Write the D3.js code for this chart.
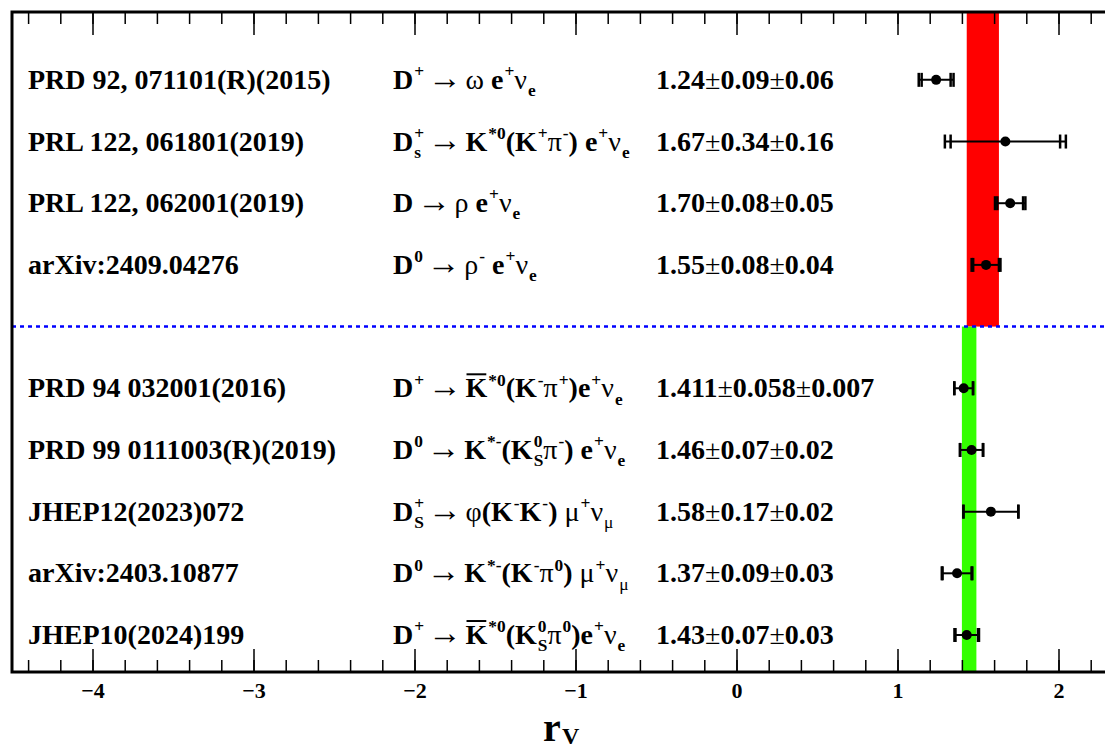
<!DOCTYPE html>
<html>
<head>
<meta charset="utf-8">
<script src="https://cdn.jsdelivr.net/npm/d3@7"></script>
<style>
  body { margin: 0; background: #fff; }
  text { font-family: "Liberation Serif", "Times New Roman", serif; white-space: pre; }
</style>
</head>
<body>
<svg id="chart" width="1105" height="750"></svg>
<script>
// measurements, top to bottom
const refs = ["PRD 92, 071101(R)(2015)", "PRL 122, 061801(2019)", "PRL 122, 062001(2019)", "arXiv:2409.04276",
    "PRD 94 032001(2016)", "PRD 99 0111003(R)(2019)", "JHEP12(2023)072", "arXiv:2403.10877", "JHEP10(2024)199"];
const decays = [
    "D^{+} #rightarrow #omega e^{+}#nu_{e}",
    "D_{s}^{+} #rightarrow K^{*0}(K^{+}#pi^{-}) e^{+}#nu_{e}",
    "D #rightarrow #rho e^{+}#nu_{e}",
    "D^{0} #rightarrow #rho^{-} e^{+}#nu_{e}",
    "D^{+} #rightarrow #bar{K}^{*0}(K^{-}#pi^{+})e^{+}#nu_{e}",
    "D^{0} #rightarrow K^{*-}(K_{S}^{0}#pi^{-}) e^{+}#nu_{e}",
    "D_{S}^{+} #rightarrow #phi(K^{-}K^{-}) #mu^{+}#nu_{#mu}",
    "D^{0} #rightarrow K^{*-}(K^{-}#pi^{0}) #mu^{+}#nu_{#mu}",
    "D^{+} #rightarrow #bar{K}^{*0}(K_{S}^{0}#pi^{0})e^{+}#nu_{e}"];
const rv   = [1.24, 1.67, 1.70, 1.55, 1.411, 1.46, 1.58, 1.37, 1.43];
const stat = [0.09, 0.34, 0.08, 0.08, 0.058, 0.07, 0.17, 0.09, 0.07];
const syst = [0.06, 0.16, 0.05, 0.04, 0.007, 0.02, 0.02, 0.03, 0.03];
const digits = [2, 2, 2, 2, 3, 2, 2, 2, 2];
const slots = [0, 1, 2, 3, 5, 6, 7, 8, 9];   // row position, slot 4 is the divider
const dividerSlot = 4;

// averages drawn as bands: upper group (red), lower group (green)
const bandLow  = [1.43, 1.40];
const bandHigh = [1.63, 1.49];
const bandColor = ["#ff0000", "#33ff00"];

const svg = d3.select("#chart");
const pLeft = 12, pRight = 1139, pTop = 12, pBottom = 672;

const x = d3.scaleLinear().domain([-4.5, 2.5]).range([pLeft, pRight]);
const y = d3.scaleLinear().domain([-1.1, 9.6]).range([pTop, pBottom]);

// bands
svg.append("rect")
    .attr("x", x(bandLow[0])).attr("width", x(bandHigh[0]) - x(bandLow[0]))
    .attr("y", pTop).attr("height", y(dividerSlot) - pTop)
    .attr("fill", bandColor[0]);
svg.append("rect")
    .attr("x", x(bandLow[1])).attr("width", x(bandHigh[1]) - x(bandLow[1]))
    .attr("y", y(dividerSlot)).attr("height", pBottom - y(dividerSlot))
    .attr("fill", bandColor[1]);

svg.append("line")
    .attr("x1", pLeft).attr("x2", pRight)
    .attr("y1", y(dividerSlot)).attr("y2", y(dividerSlot))
    .attr("stroke", "#0000ff").attr("stroke-width", 2.5)
    .attr("stroke-dasharray", "4,4");

// ticks
const major = d3.range(-4, 3, 1);
const minor = d3.range(-4.4, 2.5, 0.2).map(d => Math.round(d * 10) / 10);

function tickAxis(axis, ticks, size, pos, labels) {
    const g = svg.append("g")
        .attr("transform", `translate(0,${pos})`)
        .call(axis.tickValues(ticks).tickSizeInner(size).tickSizeOuter(0)
            .tickPadding(10).tickFormat(labels ? d3.format("") : ""));
    g.select(".domain").remove();
    g.selectAll("line").attr("stroke", "#000").attr("stroke-width", 1.5);
    g.selectAll("text").attr("font-size", 22).attr("font-weight", "bold")
        .attr("font-family", "Liberation Serif, serif").attr("fill", "#000");
}
tickAxis(d3.axisBottom(x), minor, -12, pBottom, false);
tickAxis(d3.axisBottom(x), major, -23, pBottom, true);
tickAxis(d3.axisTop(x), minor, -12, pTop, false);
tickAxis(d3.axisTop(x), major, -23, pTop, false);

// TLatex-like text
const sym = { rightarrow: "\u2192", omega: "\u03c9", rho: "\u03c1", pi: "\u03c0", nu: "\u03bd",
    mu: "\u03bc", phi: "\u03c6", pm: "\u00b1" };

function toRuns(s) {
    const runs = [];
    let j = 0;
    while (j < s.length) {
        let t, greek;
        if (s[j] === "#") {
            let k = j + 1;
            while (k < s.length && /[a-z]/i.test(s[k])) k++;
            t = sym[s.slice(j + 1, k)]; greek = true; j = k;
        } else { t = s[j]; greek = false; j++; }
        const last = runs[runs.length - 1];
        if (last && last.greek === greek) last.t += t; else runs.push({ t, greek });
    }
    return runs;
}

function parse(str) {
    const pieces = [];
    let i = 0, plain = "";
    const flush = () => { if (plain) { pieces.push({ kind: "n", runs: toRuns(plain) }); plain = ""; } };
    const group = () => {
        let depth = 0, start = i;
        for (; i < str.length; i++) {
            if (str[i] === "{") depth++;
            if (str[i] === "}") { depth--; if (depth === 0) break; }
        }
        const inner = str.slice(start + 1, i);
        i++;
        return inner;
    };
    while (i < str.length) {
        const c = str[i];
        if (str.startsWith(" #rightarrow ", i)) {
            flush();
            i += 13;
            pieces.push({ kind: "n", runs: [{ t: " \u2192 ", greek: true, arrow: true }] });
        } else if (c === "^" || c === "_") {
            flush();
            i++;
            const key = c === "^" ? "sup" : "sub";
            const content = toRuns(group());
            const last = pieces[pieces.length - 1];
            if (last && last.kind === "s" && !last[key]) last[key] = content;
            else pieces.push({ kind: "s", [key]: content });
        } else if (str.startsWith("#bar", i)) {
            flush();
            i += 4;
            pieces.push({ kind: "n", runs: toRuns(group()), bar: true });
        } else if (c === "#") {
            let k = i + 1;
            while (k < str.length && /[a-z]/i.test(str[k])) k++;
            plain += str.slice(i, k);
            i = k;
        } else { plain += c; i++; }
    }
    flush();
    return pieces;
}

function drawRuns(g, runs, x0, y0, size) {
    let cx = x0;
    runs.forEach(r => {
        // arrow glyph drawn a bit larger with tighter spaces, like the Symbol font one
        const t = g.append("text")
            .attr("x", cx).attr("y", y0)
            .attr("xml:space", "preserve")
            .attr("font-size", r.arrow ? size * 1.2 : size)
            .attr("word-spacing", r.arrow ? -4.5 : null)
            .attr("font-weight", r.greek ? "normal" : "bold")
            .text(r.t);
        cx += t.node().getComputedTextLength();
    });
    return cx - x0;
}

function drawLatex(g, str, x0, y0, size) {
    let cx = x0;
    parse(str).forEach(p => {
        if (p.kind === "n") {
            const w = drawRuns(g, p.runs, cx, y0, size);
            if (p.bar) {
                g.append("line").attr("x1", cx + 1).attr("x2", cx + w - 1)
                    .attr("y1", y0 - size * 0.82).attr("y2", y0 - size * 0.82)
                    .attr("stroke", "#000").attr("stroke-width", 2);
            }
            cx += w;
        } else {
            const ss = size * 0.62;
            const ws = p.sup ? drawRuns(g, p.sup, cx + 1, y0 - size * 0.42, ss) : 0;
            const wb = p.sub ? drawRuns(g, p.sub, cx + 1, y0 + size * 0.26, ss) : 0;
            cx += Math.max(ws, wb) + 1;
        }
    });
}

const fs = 28;
const textG = svg.append("g").attr("fill", "#000");
slots.forEach((s, i) => {
    const base = y(s) + 9;
    drawLatex(textG, refs[i], 28, base, fs);
    drawLatex(textG, decays[i], 393, base, fs);
    const f = d3.format(`.${digits[i]}f`);
    drawLatex(textG, `${f(rv[i])}#pm${f(stat[i])}#pm${f(syst[i])}`, 656, base, fs);
});

// error bars: stat caps and total (quadrature) caps
const capH = 7;
const eg = svg.append("g").attr("stroke", "#000");
slots.forEach((s, i) => {
    const tot = Math.sqrt(stat[i] ** 2 + syst[i] ** 2);
    const yy = y(s);
    eg.append("line").attr("x1", x(rv[i] - tot)).attr("x2", x(rv[i] + tot))
        .attr("y1", yy).attr("y2", yy).attr("stroke-width", 2);
    [rv[i] - stat[i], rv[i] + stat[i], rv[i] - tot, rv[i] + tot].forEach(v => {
        eg.append("line").attr("x1", x(v)).attr("x2", x(v))
            .attr("y1", yy - capH).attr("y2", yy + capH).attr("stroke-width", 2.5);
    });
    svg.append("circle").attr("cx", x(rv[i])).attr("cy", yy).attr("r", 5).attr("fill", "#000");
});

// frame
svg.append("rect")
    .attr("x", pLeft).attr("y", pTop)
    .attr("width", pRight - pLeft).attr("height", pBottom - pTop)
    .attr("fill", "none").attr("stroke", "#000").attr("stroke-width", 3);

// axis title
const tg = svg.append("g").attr("fill", "#000");
tg.append("text").attr("x", 543).attr("y", 741).attr("font-size", 40).attr("font-weight", "bold").text("r");
tg.append("text").attr("x", 562).attr("y", 744).attr("font-size", 24).attr("font-weight", "bold").text("V");
</script>
</body>
</html>
